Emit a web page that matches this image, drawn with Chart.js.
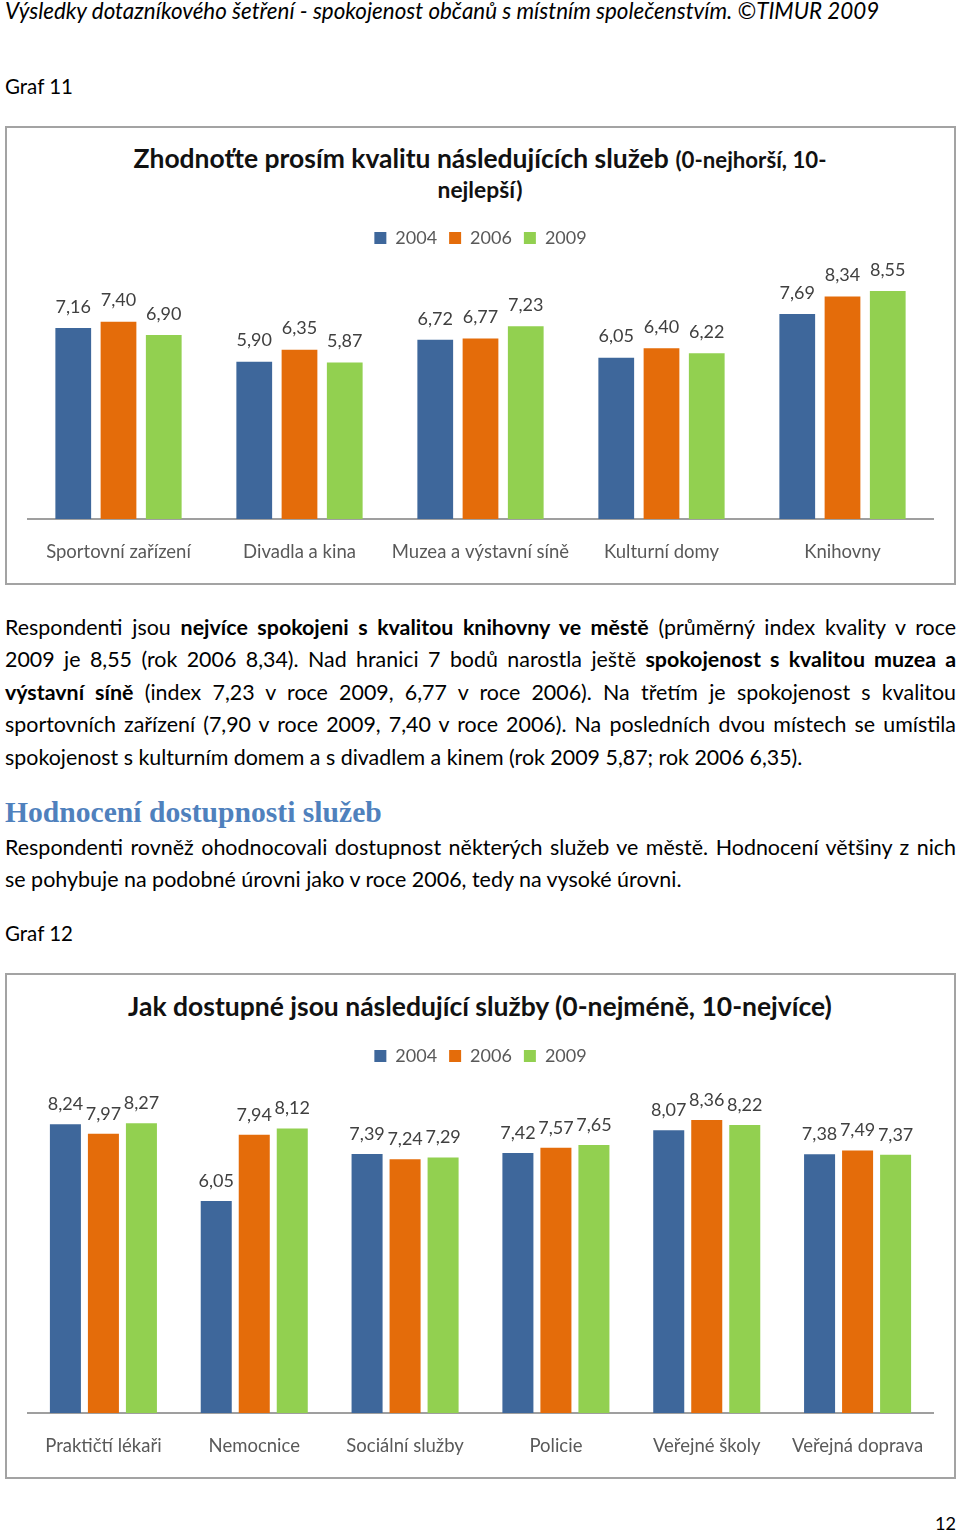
<!DOCTYPE html>
<html>
<head>
<meta charset="utf-8">
<script src="https://cdn.jsdelivr.net/npm/chart.js@4"></script>
<style>
html,body{margin:0;padding:0;background:#fff;}
body{width:960px;height:1536px;position:relative;overflow:hidden;font-family:Lato,"Open Sans",sans-serif;color:#000;}
.t{position:absolute;white-space:nowrap;line-height:1;}
.box{position:absolute;border:2px solid #a3a3a3;box-sizing:border-box;}
.pl{position:absolute;left:5px;width:951px;white-space:nowrap;line-height:1;}
.pl.just{white-space:normal;text-align:justify;text-align-last:justify;}
.cw{position:absolute;}
b{font-weight:700;}
</style>
</head>
<body>
<div class="box" style="left:5px;top:126px;width:951px;height:459px;"></div>
<div class="box" style="left:5px;top:973px;width:951px;height:506px;"></div>

<div class="cw" style="left:7px;top:215px;width:947px;height:370.2px;"><canvas id="c1"></canvas></div>
<div class="cw" style="left:7px;top:1034px;width:947px;height:445.2px;"><canvas id="c2"></canvas></div>

<script>
// ---------- data ----------
const years = ['2004', '2006', '2009'];

const categoriesQuality = ['Sportovní zařízení', 'Divadla a kina', 'Muzea a výstavní síně', 'Kulturní domy', 'Knihovny'];
const quality2004 = [7.16, 5.90, 6.72, 6.05, 7.69];
const quality2006 = [7.40, 6.35, 6.77, 6.40, 8.34];
const quality2009 = [6.90, 5.87, 7.23, 6.22, 8.55];

const categoriesAccess = ['Praktičtí lékaři', 'Nemocnice', 'Sociální služby', 'Policie', 'Veřejné školy', 'Veřejná doprava'];
const access2004 = [8.24, 6.05, 7.39, 7.42, 8.07, 7.38];
const access2006 = [7.97, 7.94, 7.24, 7.57, 8.36, 7.49];
const access2009 = [8.27, 8.12, 7.29, 7.65, 8.22, 7.37];

const yTicks = [0, 9]; // value axis range (hidden axis, Excel auto max 9)

// ---------- styling ----------
const seriesColors = ['#3e679b', '#e46c0a', '#92d050'];
const FONT = 'Lato, "Open Sans", sans-serif';

// ---------- page text ----------
function addText(html, opts) {
  const el = document.createElement('div');
  el.className = 't';
  el.innerHTML = html;
  if (opts.style) el.setAttribute('style', opts.style);
  el.style.fontSize = '20px';
  document.body.appendChild(el);
  const w = el.getBoundingClientRect().width;
  const fs = 20 * opts.w / w;
  el.style.fontSize = fs + 'px';
  const w2 = el.getBoundingClientRect().width;
  const left = opts.align === 'center' ? opts.cx - w2 / 2 : opts.x;
  el.style.left = left + 'px';
  el.style.top = (opts.cy - (opts.k || 0.55) * fs) + 'px';
  return fs;
}

addText('Výsledky dotazníkového šetření - spokojenost občanů s místním společenstvím. ©TIMUR 2009',
  {x: 5, cy: 12, w: 875, style: 'font-style:italic;'});
addText('Graf 11', {x: 5, cy: 87, w: 68});
addText('Graf 12', {x: 5, cy: 934, w: 68});
addText('Hodnocení dostupnosti služeb',
  {x: 5, cy: 814, w: 377, style: 'font-family:"Liberation Serif",serif;font-weight:700;color:#4f81bd;'});
addText('12', {x: 935, cy: 1524, w: 21});

// chart titles
addText('<b>Zhodnoťte prosím kvalitu následujících služeb</b> <b style="font-size:0.84em">(0-nejhorší, 10-</b>',
  {align: 'center', cx: 480, cy: 160, w: 693, style: 'color:#111;'});
addText('<b>nejlepší)</b>', {align: 'center', cx: 480, cy: 191, w: 85, style: 'color:#111;'});
addText('<b>Jak dostupné jsou následující služby (0-nejméně, 10-nejvíce)</b>',
  {align: 'center', cx: 480, cy: 1008, w: 704, style: 'color:#111;'});

function addPara(lines, lastW) {
  const els = lines.map(l => {
    const d = document.createElement('div');
    d.className = 'pl';
    d.innerHTML = '<span>' + l.html + '</span>';
    document.body.appendChild(d);
    return d;
  });
  const last = els[els.length - 1];
  last.style.fontSize = '20px';
  const lw = last.firstChild.getBoundingClientRect().width;
  const fs = 20 * lastW / lw;
  els.forEach((d, i) => {
    let f = fs;
    d.style.fontSize = f + 'px';
    const sw = d.firstChild.getBoundingClientRect().width;
    if (sw > 945) { f = f * 945 / sw; d.style.fontSize = f + 'px'; }
    d.style.top = (lines[i].cy - 0.55 * f) + 'px';
    if (lines[i].just) d.classList.add('just');
  });
}

addPara([
  {html: 'Respondenti jsou <b>nejvíce spokojeni s kvalitou knihovny ve městě</b> (průměrný index kvality v roce', cy: 629, just: true},
  {html: '2009 je 8,55 (rok 2006 8,34). Nad hranici 7 bodů narostla ještě <b>spokojenost s kvalitou muzea a</b>', cy: 661, just: true},
  {html: '<b>výstavní síně</b> (index 7,23 v roce 2009, 6,77 v roce 2006). Na třetím je spokojenost s kvalitou', cy: 694, just: true},
  {html: 'sportovních zařízení (7,90 v roce 2009, 7,40 v roce 2006). Na posledních dvou místech se umístila', cy: 726, just: true},
  {html: 'spokojenost s kulturním domem a s divadlem a kinem (rok 2009 5,87; rok 2006 6,35).', cy: 759, just: false}
], 798);

addPara([
  {html: 'Respondenti rovněž ohodnocovali dostupnost některých služeb ve městě. Hodnocení většiny z nich', cy: 849, just: true},
  {html: 'se pohybuje na podobné úrovni jako v roce 2006, tedy na vysoké úrovni.', cy: 881, just: false}
], 677);

// ---------- Chart.js ----------
Chart.defaults.font.family = FONT;
Chart.defaults.color = '#595959';

const valueLabels = {
  id: 'valueLabels',
  afterDatasetsDraw(chart, args, opts) {
    const ctx = chart.ctx;
    ctx.save();
    ctx.font = opts.size + 'px ' + FONT;
    ctx.fillStyle = opts.color;
    ctx.textAlign = 'center';
    ctx.textBaseline = 'middle';
    chart.data.datasets.forEach((ds, i) => {
      const meta = chart.getDatasetMeta(i);
      meta.data.forEach((bar, j) => {
        ctx.fillText(ds.data[j].toFixed(2).replace('.', ','), bar.x, bar.y - opts.offset);
      });
    });
    ctx.restore();
  }
};

const legendGap = {
  id: 'legendGap',
  beforeLayout(chart, args, opts) {
    const lg = chart.legend;
    if (lg && !lg.$gapPatched) {
      const orig = lg.fit;
      lg.fit = function () { orig.call(this); this.height += opts.extra || 0; };
      lg.$gapPatched = true;
    }
  }
};

function makeChart(id, labels, series, cfg) {
  return new Chart(document.getElementById(id), {
    type: 'bar',
    data: {
      labels: labels,
      datasets: series.map((d, i) => ({
        label: years[i],
        data: d,
        backgroundColor: seriesColors[i],
        borderWidth: 0,
        categoryPercentage: cfg.catPct,
        barPercentage: cfg.barPct
      }))
    },
    options: {
      responsive: true,
      maintainAspectRatio: false,
      animation: false,
      layout: {padding: {left: 21, right: 21, top: cfg.padTop, bottom: 0}},
      scales: {
        x: {
          grid: {display: false, drawTicks: false},
          border: {display: true, color: '#9f9f9f', width: 2},
          ticks: {font: {size: 18.5}, color: '#595959', padding: 22, maxRotation: 0, minRotation: 0, autoSkip: false}
        },
        y: {
          display: false,
          min: yTicks[0],
          max: yTicks[1]
        }
      },
      plugins: {
        legend: {
          position: 'top',
          labels: {boxWidth: 12, boxHeight: 12, padding: 12, font: {size: 18}, color: '#595959'}
        },
        tooltip: {enabled: false},
        legendGap: {extra: cfg.gap},
        valueLabels: {size: 18, color: '#404040', offset: cfg.offset}
      }
    },
    plugins: [valueLabels, legendGap]
  });
}

makeChart('c1', categoriesQuality, [quality2004, quality2006, quality2009],
  {catPct: 0.75, barPct: 0.79, padTop: 2, gap: 22, offset: 21});
makeChart('c2', categoriesAccess, [access2004, access2006, access2009],
  {catPct: 0.756, barPct: 0.816, padTop: 1, gap: 22.6, offset: 20});
</script>
</body>
</html>
